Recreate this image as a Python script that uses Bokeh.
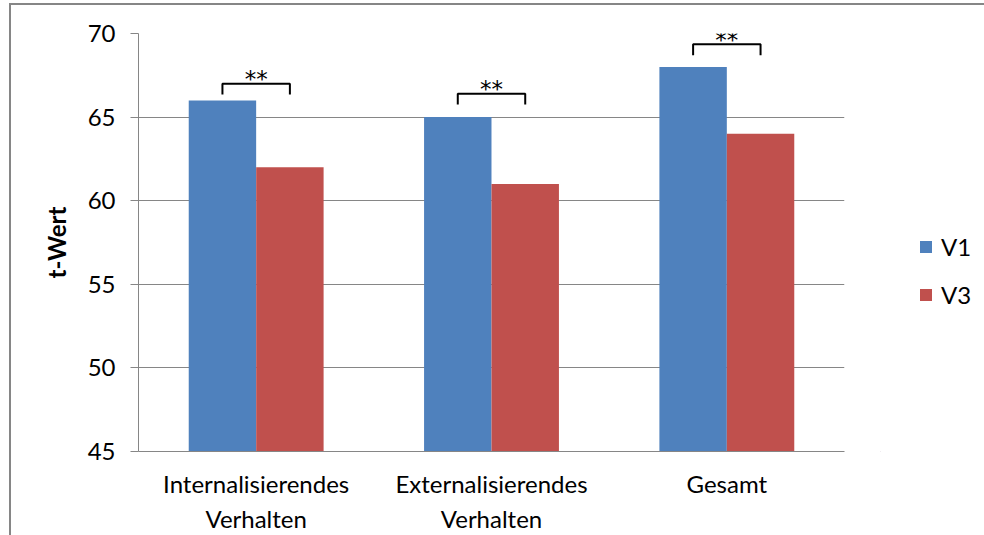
from bokeh.plotting import figure
from bokeh.layouts import row
from bokeh.models import (ColumnDataSource, FactorRange, Legend, LegendItem,
                          FixedTicker, InlineStyleSheet, Range1d)
from bokeh.transform import dodge
from bokeh.embed import file_html
from bokeh.resources import INLINE
from bokeh.core.properties import value

# Data
categories = ["Internalisierendes\nVerhalten", "Externalisierendes\nVerhalten", "Gesamt"]
series = ["V1", "V3"]
v1 = [66, 65, 68]
v3 = [62, 61, 64]
sig_labels = ["**", "**", "**"]
bracket_top = [67.0, 66.4, 69.35]
bracket_leg = 0.65
y_ticks = [45, 50, 55, 60, 65, 70]

FONT = "Lato"
FS = "24px"
BLUE = "#4F81BD"
RED = "#C0504D"
GREY = "#868686"

H = 535
MAIN_W = 880
LEG_W = 984 - MAIN_W

p = figure(width=MAIN_W, height=H, output_backend="svg", toolbar_location=None,
           x_range=FactorRange(factors=categories), y_range=(45, 70),
           min_border_left=138, min_border_right=MAIN_W - 844, min_border_top=33,
           min_border_bottom=83)
p.outline_line_color = None
p.border_fill_color = "white"

src = ColumnDataSource(dict(cat=categories, v1=v1, v3=v3))
off = 0.1433
bw = 0.2865
p.vbar(x=dodge("cat", -off, range=p.x_range), top="v1", bottom=45, width=bw,
       source=src, fill_color=BLUE, line_color=None)
p.vbar(x=dodge("cat", off, range=p.x_range), top="v3", bottom=45, width=bw,
       source=src, fill_color=RED, line_color=None)

# significance brackets
xs, ys = [], []
for c, t in zip(categories, bracket_top):
    xs.append([(c, -off), (c, -off), (c, off), (c, off)])
    ys.append([t - bracket_leg, t, t, t - bracket_leg])
p.multi_line(xs=xs, ys=ys, line_color="black", line_width=2)
p.text(x=categories, y=[t + 0.28 for t in bracket_top], text=sig_labels,
       text_align="center", text_baseline="alphabetic",
       text_font=value("DejaVu Sans"), text_font_size="23px", text_color="black")

# axes
p.yaxis.ticker = FixedTicker(ticks=y_ticks)
p.ygrid.ticker = FixedTicker(ticks=y_ticks)
p.xgrid.grid_line_color = None
p.ygrid.grid_line_color = GREY
p.ygrid.grid_line_width = 1
for ax in (p.xaxis[0], p.yaxis[0]):
    ax.axis_line_color = GREY
    ax.axis_line_width = 1
    ax.major_label_text_font = FONT
    ax.major_label_text_font_size = FS
    ax.major_label_text_color = "black"
    ax.minor_tick_line_color = None
p.yaxis.major_tick_line_color = GREY
p.yaxis.major_tick_out = 8
p.yaxis.major_tick_in = 0
p.yaxis.major_label_standoff = 15
p.yaxis.axis_label = "t-Wert"
p.yaxis.axis_label_text_font = FONT
p.yaxis.axis_label_text_font_size = FS
p.yaxis.axis_label_text_font_style = "bold"
p.yaxis.axis_label_text_color = "black"
p.yaxis.axis_label_standoff = 14
p.xaxis.major_tick_line_color = None
p.xaxis.major_label_standoff = 11
p.xaxis.major_label_text_line_height = 1.22

# legend panel to the right of the plot; its swatch renderers sit outside
# the visible range so only the legend entries show
lg = figure(width=LEG_W, height=H, output_backend="svg", toolbar_location=None,
            x_range=Range1d(0, 1), y_range=Range1d(0, 1),
            x_axis_type=None, y_axis_type=None,
            min_border=0, min_border_left=0, min_border_right=0,
            min_border_top=0, min_border_bottom=0)
lg.outline_line_color = None
lg.grid.grid_line_color = None
k1 = lg.vbar(x=[-5], top=[-5], bottom=[-6], width=0.1, fill_color=BLUE, line_color=None)
k3 = lg.vbar(x=[-5], top=[-5], bottom=[-6], width=0.1, fill_color=RED, line_color=None)
legend = Legend(items=[LegendItem(label=series[0], renderers=[k1]),
                       LegendItem(label=series[1], renderers=[k3])],
                location=(918 - MAIN_W, 142), orientation="vertical",
                border_line_color=None, background_fill_alpha=0,
                padding=0, margin=0, spacing=19,
                glyph_width=15, glyph_height=15, label_height=15,
                label_standoff=8, label_text_font=FONT,
                label_text_font_size=FS, label_text_color="black")
lg.add_layout(legend, "center")

layout = row(p, lg, spacing=0)
# thin grey chart-area border (left and top edges) drawn over the canvas
layout.stylesheets = [InlineStyleSheet(css="""
:host { position: relative; overflow: hidden; }
:host::after {
  content: ""; position: absolute; left: 9px; top: 3px;
  width: 975px; height: 532px; box-sizing: border-box;
  border-left: 2px solid #868686; border-top: 2px solid #868686;
  pointer-events: none; z-index: 10;
}
""")]

open("out.html", "w").write(file_html(layout, INLINE))
